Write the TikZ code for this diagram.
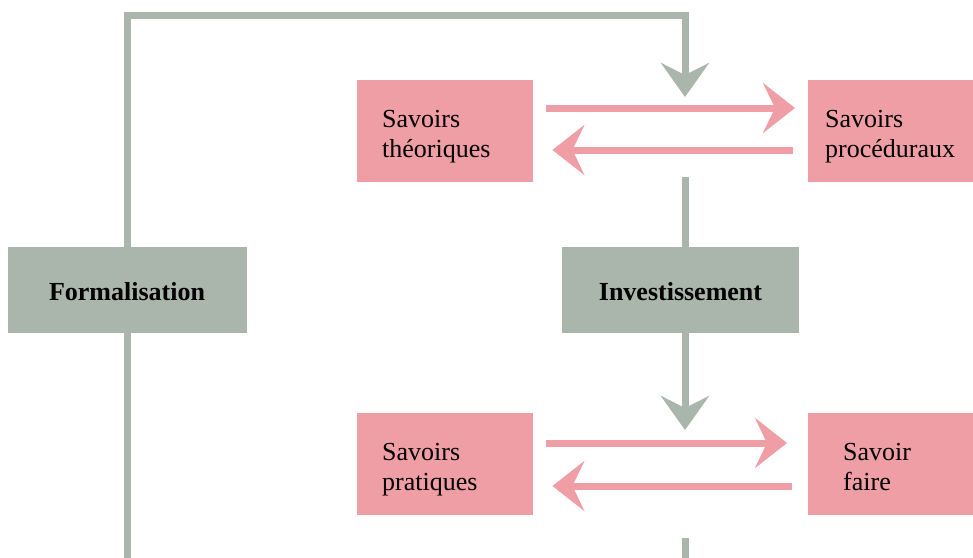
\documentclass[tikz,border=0pt]{standalone}
\usepackage{fontspec}
\setmainfont{Liberation Serif}
\usetikzlibrary{arrows.meta,calc}
\definecolor{rosebox}{RGB}{240,158,165}
\definecolor{sagebox}{RGB}{170,181,171}
\begin{document}
\begin{tikzpicture}[x=1pt,y=-1pt,
  every node/.style={font=\fontsize{26}{30}\selectfont, inner sep=0pt},
  pinkbox/.style={fill=rosebox, minimum height=102pt, align=left, anchor=west,
    text height=29pt},
  greybox/.style={fill=sagebox, minimum width=239pt, minimum height=86pt,
    font=\fontsize{26}{30}\selectfont\bfseries, text height=21pt},
  flow/.style={draw=sagebox, line width=7pt},
  flowarrow/.style={flow, -{Stealth[length=34pt,width=48pt,inset=12pt]}},
  link/.style={draw=rosebox, line width=7pt, -{Stealth[length=32pt,width=50pt,inset=12pt]}},
]
\useasboundingbox (0,0) rectangle (973,557);
\clip (0,0) rectangle (973,557);

% knowledge boxes
\node[pinkbox, inner xsep=25pt, text width=126pt] (th) at (357,131) {Savoirs\\théoriques};
\node[pinkbox, inner xsep=17pt, text width=138pt] (pr) at (808,131) {Savoirs\\procéduraux};
\node[pinkbox, inner xsep=25pt, text width=126pt] (pa) at (357,464) {Savoirs\\pratiques};
\node[pinkbox, inner xsep=35pt, text width=102pt, text height=24pt] (sf) at (808,464) {Savoir\\faire};

% process boxes
\node[greybox] (fo) at (127,290) {Formalisation};
\node[greybox, minimum width=237pt] (iv) at (680.5,290) {Investissement};

% loose ends of the cycle
\coordinate (rail) at (0,15);
\coordinate (floor) at (0,563);
\coordinate (topin) at (685,97);
\coordinate (topout) at (685,177);
\coordinate (botin) at (685,430);
\coordinate (botout) at (685,538);

% the cycle
\draw[flowarrow] (fo.north) |- (rail -| topin) -- (topin);
\draw[flow] (topout) -- (topout |- iv.north);
\draw[flowarrow] (iv.south -| botin) -- (botin);
\draw[flow] (botout) -- (botout |- floor) -| (fo.south);

% exchanges between the paired boxes
\draw[link] ($(th.east)+(13,-23)$) -- ($(pr.west)+(-13,-23)$);
\draw[link] ($(pr.west)+(-15,19)$) -- ($(th.east)+(19,19)$);
\draw[link] ($(pa.east)+(13,-21)$) -- ($(sf.west)+(-21,-21)$);
\draw[link] ($(sf.west)+(-16,22)$) -- ($(pa.east)+(19,22)$);
\end{tikzpicture}
\end{document}
